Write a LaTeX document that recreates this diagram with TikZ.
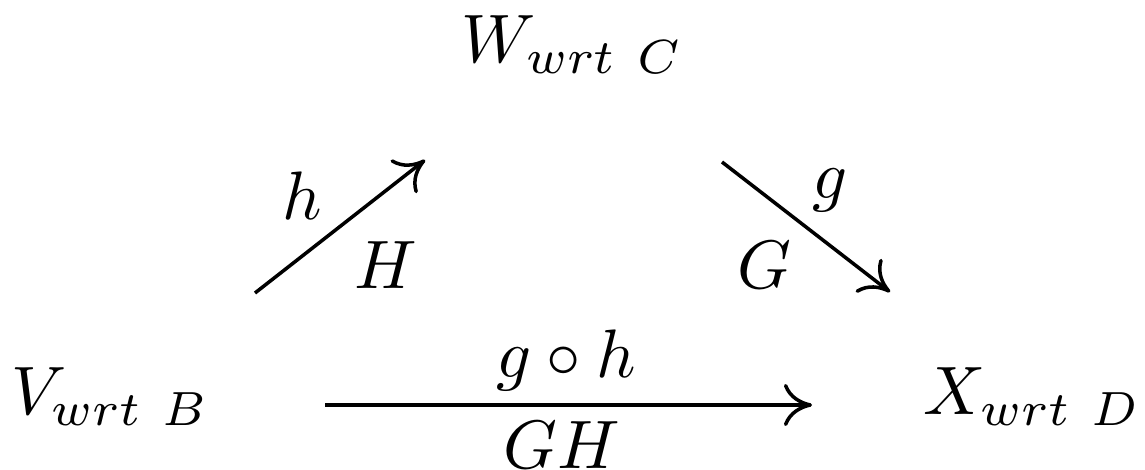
\documentclass[tikz,border=0pt]{standalone}
\usetikzlibrary{arrows.meta}
\begin{document}
\begin{tikzpicture}[x=0.01cm,y=-0.01cm,
  obj/.style={inner sep=0pt, anchor=base west, scale=1.95},
  lbl/.style={inner sep=0pt, scale=1.95},
  arr/.style={line width=1pt, -{To[length=8pt,width=12pt]}}]
\useasboundingbox (0,0) rectangle (1145,470);
\node[obj] (W) at (460,63) {$W_{wrt\ C}$};
\node[obj] (V) at (10,415) {$V_{wrt\ B}$};
\node[obj] (X) at (922,415) {$X_{wrt\ D}$};
\coordinate (h1) at (255,293);
\coordinate (h2) at (425,160);
\coordinate (g1) at (722,162);
\coordinate (g2) at (890,292);
\coordinate (b1) at (325,405);
\coordinate (b2) at (812,405);
\draw[arr] (h1) -- (h2);
\draw[arr] (g1) -- (g2);
\draw[arr] (b1) -- (b2);
\node[lbl] (lh) at (302,196) {$h$};
\node[lbl] (lH) at (386,265) {$H$};
\node[lbl] (lg) at (830,190) {$g$};
\node[lbl] (lG) at (764,265) {$G$};
\node[lbl] (lgh) at (566,360) {$g\circ h$};
\node[lbl] (lGH) at (562,445) {$GH$};
\end{tikzpicture}
\end{document}
